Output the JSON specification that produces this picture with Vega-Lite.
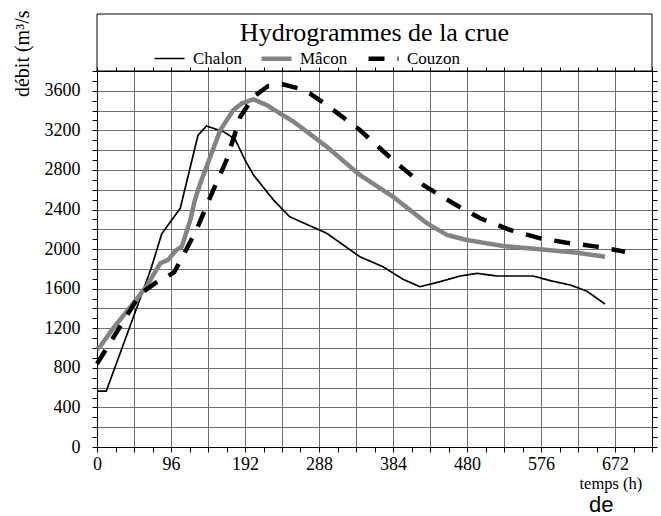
{
  "$schema": "https://vega.github.io/schema/vega-lite/v6.json",
  "width": 555,
  "height": 376,
  "autosize": {"type": "none"},
  "padding": {"left": 97, "top": 71, "right": 9, "bottom": 69},
  "background": "white",
  "config": {
    "font": "Liberation Serif",
    "view": {"stroke": "black", "strokeWidth": 1}
  },
  "title": {
    "text": "Hydrogrammes de la crue",
    "font": "Liberation Serif",
    "fontSize": 26,
    "fontWeight": "normal",
    "color": "black",
    "anchor": "middle",
    "frame": "group",
    "baseline": "alphabetic",
    "offset": -28,
    "dy": 29
  },
  "datasets": {
    "flows": [
      {"station": "Chalon", "t": 0, "q": 565},
      {"station": "Chalon", "t": 12, "q": 565},
      {"station": "Chalon", "t": 36, "q": 1075},
      {"station": "Chalon", "t": 60, "q": 1587},
      {"station": "Chalon", "t": 70, "q": 1800},
      {"station": "Chalon", "t": 84, "q": 2155},
      {"station": "Chalon", "t": 108, "q": 2412},
      {"station": "Chalon", "t": 131, "q": 3150},
      {"station": "Chalon", "t": 142, "q": 3244},
      {"station": "Chalon", "t": 164, "q": 3187},
      {"station": "Chalon", "t": 179, "q": 3113},
      {"station": "Chalon", "t": 192, "q": 2900},
      {"station": "Chalon", "t": 203, "q": 2749},
      {"station": "Chalon", "t": 229, "q": 2496},
      {"station": "Chalon", "t": 250, "q": 2327},
      {"station": "Chalon", "t": 298, "q": 2160},
      {"station": "Chalon", "t": 341, "q": 1923},
      {"station": "Chalon", "t": 371, "q": 1822},
      {"station": "Chalon", "t": 397, "q": 1695},
      {"station": "Chalon", "t": 419, "q": 1620},
      {"station": "Chalon", "t": 445, "q": 1671},
      {"station": "Chalon", "t": 471, "q": 1728},
      {"station": "Chalon", "t": 493, "q": 1755},
      {"station": "Chalon", "t": 519, "q": 1728},
      {"station": "Chalon", "t": 566, "q": 1728},
      {"station": "Chalon", "t": 588, "q": 1681},
      {"station": "Chalon", "t": 614, "q": 1637},
      {"station": "Chalon", "t": 635, "q": 1577},
      {"station": "Chalon", "t": 659, "q": 1445},
      {"station": "Mâcon", "t": 0, "q": 990},
      {"station": "Mâcon", "t": 4, "q": 1014},
      {"station": "Mâcon", "t": 21, "q": 1200},
      {"station": "Mâcon", "t": 47, "q": 1452},
      {"station": "Mâcon", "t": 64, "q": 1620},
      {"station": "Mâcon", "t": 82, "q": 1856},
      {"station": "Mâcon", "t": 92, "q": 1890},
      {"station": "Mâcon", "t": 103, "q": 1991},
      {"station": "Mâcon", "t": 110, "q": 2025},
      {"station": "Mâcon", "t": 121, "q": 2294},
      {"station": "Mâcon", "t": 127, "q": 2496},
      {"station": "Mâcon", "t": 134, "q": 2665},
      {"station": "Mâcon", "t": 147, "q": 2934},
      {"station": "Mâcon", "t": 160, "q": 3204},
      {"station": "Mâcon", "t": 177, "q": 3406},
      {"station": "Mâcon", "t": 188, "q": 3473},
      {"station": "Mâcon", "t": 203, "q": 3513},
      {"station": "Mâcon", "t": 220, "q": 3456},
      {"station": "Mâcon", "t": 255, "q": 3288},
      {"station": "Mâcon", "t": 298, "q": 3035},
      {"station": "Mâcon", "t": 341, "q": 2749},
      {"station": "Mâcon", "t": 384, "q": 2530},
      {"station": "Mâcon", "t": 428, "q": 2261},
      {"station": "Mâcon", "t": 454, "q": 2143},
      {"station": "Mâcon", "t": 480, "q": 2092},
      {"station": "Mâcon", "t": 527, "q": 2031},
      {"station": "Mâcon", "t": 575, "q": 1998},
      {"station": "Mâcon", "t": 622, "q": 1964},
      {"station": "Mâcon", "t": 659, "q": 1923},
      {"station": "Couzon", "t": 0, "q": 840},
      {"station": "Couzon", "t": 56, "q": 1545},
      {"station": "Couzon", "t": 75, "q": 1654},
      {"station": "Couzon", "t": 92, "q": 1728},
      {"station": "Couzon", "t": 100, "q": 1764},
      {"station": "Couzon", "t": 112, "q": 1940},
      {"station": "Couzon", "t": 129, "q": 2193},
      {"station": "Couzon", "t": 149, "q": 2564},
      {"station": "Couzon", "t": 168, "q": 2900},
      {"station": "Couzon", "t": 186, "q": 3338},
      {"station": "Couzon", "t": 203, "q": 3540},
      {"station": "Couzon", "t": 222, "q": 3648},
      {"station": "Couzon", "t": 240, "q": 3668},
      {"station": "Couzon", "t": 261, "q": 3625},
      {"station": "Couzon", "t": 276, "q": 3574},
      {"station": "Couzon", "t": 298, "q": 3456},
      {"station": "Couzon", "t": 341, "q": 3204},
      {"station": "Couzon", "t": 384, "q": 2900},
      {"station": "Couzon", "t": 423, "q": 2648},
      {"station": "Couzon", "t": 462, "q": 2463},
      {"station": "Couzon", "t": 497, "q": 2311},
      {"station": "Couzon", "t": 536, "q": 2193},
      {"station": "Couzon", "t": 575, "q": 2109},
      {"station": "Couzon", "t": 609, "q": 2065},
      {"station": "Couzon", "t": 648, "q": 2025},
      {"station": "Couzon", "t": 685, "q": 1974}
    ]
  },
  "resolve": {"axis": {"x": "independent", "y": "independent"}},
  "layer": [
    {
      "data": {"values": [{"box": "cadre"}]},
      "mark": {"type": "rect", "filled": false, "color": "black", "strokeWidth": 1, "clip": false},
      "encoding": {
        "x": {"datum": 0, "type": "quantitative", "scale": {"domain": [0, 720], "nice": false},
          "axis": {"orient": "top", "values": [0,24,48,72,96,120,144,168,192,216,240,264,288,312,336,360,384,408,432,456,480,504,528,552,576,600,624,648,672,696,720],
            "labels": false, "grid": false, "tickSize": 4, "tickColor": "black", "domainColor": "black", "title": null}},
        "x2": {"datum": 720},
        "y": {"datum": 3800, "type": "quantitative", "scale": {"domain": [0, 3800], "nice": false},
          "axis": {"orient": "right", "values": [0,100,200,300,400,500,600,700,800,900,1000,1100,1200,1300,1400,1500,1600,1700,1800,1900,2000,2100,2200,2300,2400,2500,2600,2700,2800,2900,3000,3100,3200,3300,3400,3500,3600,3700,3800],
            "labels": false, "grid": false, "tickSize": 5, "tickColor": "black", "domainColor": "black", "title": null}},
        "y2": {"datum": 4376}
      }
    },
    {
      "data": {"name": "flows"},
      "mark": {"type": "line", "interpolate": "linear"},
      "encoding": {
        "x": {"field": "t", "type": "quantitative", "scale": {"domain": [0, 720], "nice": false},
          "axis": {"orient": "bottom", "values": [0,24,48,72,96,120,144,168,192,216,240,264,288,312,336,360,384,408,432,456,480,504,528,552,576,600,624,648,672,696,720],
            "grid": true, "gridColor": "#6e6e6e", "gridWidth": 1,
            "gridOpacity": {"condition": {"test": "datum.value % 48 === 0", "value": 1}, "value": 0},
            "labelExpr": "datum.value % 96 === 0 && datum.value < 720 ? datum.label : ''",
            "format": "d", "tickSize": 5, "tickColor": "black", "domainColor": "black",
            "labelFont": "Liberation Serif", "labelFontSize": 18, "labelColor": "black", "labelPadding": 3,
            "labelFlush": false, "labelOverlap": false,
            "title": "temps (h)", "titleFont": "Liberation Serif", "titleFontSize": 16.5, "titleFontWeight": "normal",
            "titleColor": "black", "titleX": 482, "titleY": 41, "titleAlign": "left", "titleBaseline": "alphabetic"}},
        "y": {"field": "q", "type": "quantitative", "scale": {"domain": [0, 3800], "nice": false},
          "axis": {"orient": "left", "values": [0,100,200,300,400,500,600,700,800,900,1000,1100,1200,1300,1400,1500,1600,1700,1800,1900,2000,2100,2200,2300,2400,2500,2600,2700,2800,2900,3000,3100,3200,3300,3400,3500,3600,3700,3800],
            "grid": true, "gridColor": "#6e6e6e", "gridWidth": 1,
            "gridOpacity": {"condition": {"test": "datum.value % 200 === 0", "value": 1}, "value": 0},
            "labelExpr": "datum.value % 400 === 0 && datum.value <= 3600 ? datum.label : ''",
            "format": "d", "tickSize": 5, "tickColor": "black", "domainColor": "black",
            "labelFont": "Liberation Serif", "labelFontSize": 18, "labelColor": "black", "labelPadding": 12,
            "labelFlush": false, "labelOverlap": false,
            "title": "débit (m³/s", "titleFont": "Liberation Serif", "titleFontSize": 20, "titleFontWeight": "normal",
            "titleColor": "black", "titleAngle": -90, "titleX": -69, "titleY": -61, "titleAlign": "right", "titleBaseline": "alphabetic"}},
        "color": {"field": "station", "type": "nominal",
          "scale": {"domain": ["Chalon", "Mâcon", "Couzon"], "range": ["#000000", "#838383", "#000000"]},
          "legend": {"orient": "none", "legendX": 55, "legendY": -30, "direction": "horizontal", "columns": 3,
            "gridAlign": "all", "columnPadding": 6, "title": null, "symbolType": "stroke", "symbolSize": 900,
            "labelFont": "Liberation Serif", "labelFontSize": 17, "labelColor": "black", "labelOffset": 6, "padding": 0}},
        "strokeDash": {"field": "station", "type": "nominal",
          "scale": {"domain": ["Chalon", "Mâcon", "Couzon"], "range": [[1, 0], [1, 0], [16, 13]]}},
        "strokeWidth": {"field": "station", "type": "nominal",
          "scale": {"type": "ordinal", "domain": ["Chalon", "Mâcon", "Couzon"], "range": [1.7, 4.5, 4.5]}}
      }
    },
    {
      "data": {"values": [{"note": "de"}]},
      "mark": {"type": "text", "font": "Liberation Sans", "fontSize": 22, "color": "black", "align": "center", "baseline": "alphabetic", "clip": false},
      "encoding": {
        "text": {"field": "note"},
        "x": {"datum": 654, "type": "quantitative", "axis": null},
        "y": {"datum": -655, "type": "quantitative", "axis": null}
      }
    }
  ]
}
